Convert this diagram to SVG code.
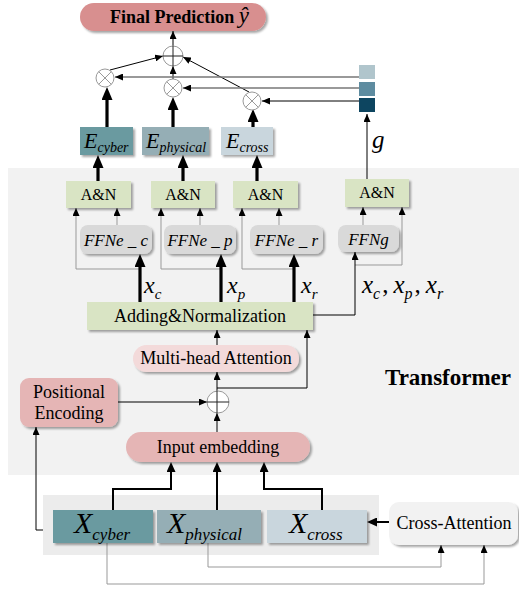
<svg xmlns="http://www.w3.org/2000/svg" width="519" height="591" viewBox="0 0 519 591">
<defs>
<filter id="sh" x="-10%" y="-20%" width="130%" height="150%"><feDropShadow dx="2" dy="2" stdDeviation="1.3" flood-color="#000" flood-opacity="0.35"/></filter>
<marker id="ah" markerWidth="8" markerHeight="7" refX="8" refY="3.5" orient="auto" markerUnits="userSpaceOnUse"><path d="M0,0 L8,3.5 L0,7z" fill="#000"/></marker>
<marker id="am" markerWidth="10" markerHeight="9" refX="0.5" refY="4.5" orient="auto" markerUnits="userSpaceOnUse"><path d="M0,0 L10,4.5 L0,9z" fill="#000"/></marker>
<marker id="tk" markerWidth="13" markerHeight="11" refX="0.5" refY="5.5" orient="auto" markerUnits="userSpaceOnUse"><path d="M0,0 L13,5.5 L0,11z" fill="#000"/></marker>
</defs>
<style>
text{font-family:"Liberation Serif","Times New Roman",serif;fill:#000}
.lbl{font-size:18px;text-anchor:middle}
.an{font-size:16px;text-anchor:middle}
.ffn{font-size:17px;font-style:italic;text-anchor:middle}
.it{font-style:italic}
.thin{fill:none;stroke:#000;stroke-width:1}
.gray{fill:none;stroke:#999;stroke-width:1}
.gl{fill:none;stroke:#777;stroke-width:1.6}
.med{fill:none;stroke:#000;stroke-width:2}
.thick{fill:none;stroke:#000;stroke-width:3.2}
.op{fill:#fff;stroke:#999;stroke-width:1}
.opx{stroke:#999;stroke-width:1}
.opp{stroke:#222;stroke-width:1}
</style>
<rect x="8" y="168" width="511" height="307" fill="#f2f2f2"/>
<rect x="43" y="495" width="336" height="60" fill="#ececec"/>
<g id="connectors">
<line x1="173" y1="46" x2="173" y2="31" class="thin" marker-end="url(#ah)"/>
<line x1="110" y1="70" x2="163" y2="56" class="thin" marker-end="url(#ah)"/>
<line x1="249" y1="92" x2="183" y2="57" class="thin" marker-end="url(#ah)"/>
<line x1="173" y1="79" x2="173" y2="66" class="thin" marker-end="url(#ah)"/>
<line x1="359" y1="77" x2="115" y2="77" class="gl" marker-end="url(#ah)"/>
<line x1="359" y1="88" x2="183" y2="88" class="gl" marker-end="url(#ah)"/>
<line x1="359" y1="101" x2="262" y2="101" class="thin" marker-end="url(#ah)"/>
<line x1="107" y1="127" x2="107" y2="99.5" class="thick" marker-end="url(#tk)"/>
<line x1="173" y1="127" x2="173" y2="109.5" class="thick" marker-end="url(#tk)"/>
<line x1="253" y1="127" x2="253" y2="121.5" class="thick" marker-end="url(#tk)"/>
<line x1="98" y1="181" x2="98" y2="167.5" class="thick" marker-end="url(#tk)"/>
<line x1="183" y1="181" x2="183" y2="167.5" class="thick" marker-end="url(#tk)"/>
<line x1="257" y1="181" x2="257" y2="167.5" class="thick" marker-end="url(#tk)"/>
<line x1="367" y1="179" x2="367" y2="114" class="thin" marker-end="url(#ah)"/>
<line x1="117" y1="225" x2="117" y2="208" class="gray" marker-end="url(#ah)"/>
<line x1="200" y1="225" x2="200" y2="208" class="gray" marker-end="url(#ah)"/>
<line x1="279" y1="225" x2="279" y2="208" class="gray" marker-end="url(#ah)"/>
<line x1="363" y1="225" x2="363" y2="207" class="gray" marker-end="url(#ah)"/>
<polyline points="140,269 76,269 76,208" class="gray" marker-end="url(#ah)"/>
<polyline points="221,269 161,269 161,208" class="gray" marker-end="url(#ah)"/>
<polyline points="294,269 242,269 242,208" class="gray" marker-end="url(#ah)"/>
<polyline points="355,265 402,265 402,207" class="gray" marker-end="url(#ah)"/>
<line x1="140" y1="302" x2="140" y2="266.5" class="thick" marker-end="url(#tk)"/>
<line x1="221" y1="302" x2="221" y2="266.5" class="thick" marker-end="url(#tk)"/>
<line x1="294" y1="302" x2="294" y2="266.5" class="thick" marker-end="url(#tk)"/>
<polyline points="313,315 355,315 355,252" class="thin" marker-end="url(#ah)"/>
<line x1="217" y1="345" x2="217" y2="330" class="thin" marker-end="url(#ah)"/>
<line x1="217" y1="391" x2="217" y2="372" class="thin" marker-end="url(#ah)"/>
<polyline points="217,388 307,388 307,330" class="thin" marker-end="url(#ah)"/>
<line x1="118" y1="402" x2="207" y2="402" class="thin" marker-end="url(#ah)"/>
<line x1="217" y1="432" x2="217" y2="413" class="thin" marker-end="url(#ah)"/>
<polyline points="113,510 113,489 171,489 171,471.5" class="med" marker-end="url(#am)"/>
<line x1="217" y1="510" x2="217" y2="471.5" class="med" marker-end="url(#am)"/>
<polyline points="322,510 322,489 264,489 264,471.5" class="med" marker-end="url(#am)"/>
<polyline points="43,530 36,530 36,427" class="thin" marker-end="url(#ah)"/>
<line x1="389" y1="522" x2="376.5" y2="522" class="med" stroke-width="2.6" marker-end="url(#am)"/>
<polyline points="208,543 208,567 441,567 441,545" class="gray" marker-end="url(#ah)"/>
<polyline points="107,543 107,584 484,584 484,545" class="gray" marker-end="url(#ah)"/>
</g>
<g id="final-prediction">
<rect x="80" y="3" width="186" height="28" rx="14" fill="#d88f8f" filter="url(#sh)"/>
<text x="110" y="23" font-size="18" font-weight="bold">Final Prediction <tspan class="it" font-weight="normal" font-size="23">ŷ</tspan></text>
</g>
<g id="sum-top">
<circle cx="173" cy="56" r="10" class="op"/>
<line x1="163" y1="56" x2="183" y2="56" class="opp"/>
<line x1="173" y1="46" x2="173" y2="66" class="opp"/>
</g>
<g id="mul-cyber">
<circle cx="105" cy="78" r="9" class="op"/>
<path d="M98.6,71.6 L111.4,84.4 M111.4,71.6 L98.6,84.4" class="opx"/>
</g>
<g id="mul-physical">
<circle cx="173" cy="88" r="9" class="op"/>
<path d="M166.6,81.6 L179.4,94.4 M179.4,81.6 L166.6,94.4" class="opx"/>
</g>
<g id="mul-cross">
<circle cx="252" cy="101" r="9" class="op"/>
<path d="M245.6,94.6 L258.4,107.4 M258.4,94.6 L245.6,107.4" class="opx"/>
</g>
<g id="gate">
<rect x="359" y="65" width="16" height="14" fill="#b0c5cc"/>
<rect x="359" y="82" width="16" height="14" fill="#5e8ca0"/>
<rect x="359" y="98" width="16" height="14" fill="#0d4560"/>
<text x="372" y="148" font-size="25" class="it">g</text>
</g>
<g id="e-cyber">
<rect x="80" y="127" width="53" height="28" fill="#6a9aa0" filter="url(#sh)"/>
<text x="84" y="148" font-size="22" class="it">E<tspan font-size="14" dy="4">cyber</tspan></text>
</g>
<g id="e-physical">
<rect x="142" y="127" width="67" height="28" fill="#95aeb5" filter="url(#sh)"/>
<text x="146" y="148" font-size="22" class="it">E<tspan font-size="14" dy="4">physical</tspan></text>
</g>
<g id="e-cross">
<rect x="221" y="127" width="52" height="28" fill="#c9d6dd" filter="url(#sh)"/>
<text x="226" y="148" font-size="22" class="it">E<tspan font-size="14" dy="4">cross</tspan></text>
</g>
<g id="an1"><rect x="66" y="181" width="65" height="27" fill="#d9e4c4" filter="url(#sh)"/><text x="98.5" y="200" class="an">A&amp;N</text></g>
<g id="an2"><rect x="151" y="181" width="64" height="27" fill="#d9e4c4" filter="url(#sh)"/><text x="183" y="200" class="an">A&amp;N</text></g>
<g id="an3"><rect x="233" y="181" width="65" height="27" fill="#d9e4c4" filter="url(#sh)"/><text x="265.5" y="200" class="an">A&amp;N</text></g>
<g id="an4"><rect x="345" y="179" width="64" height="28" fill="#d9e4c4" filter="url(#sh)"/><text x="377" y="198" class="an">A&amp;N</text></g>
<g id="ffne-c"><rect x="80" y="225" width="72" height="29" rx="8" fill="#d9d9d9" filter="url(#sh)"/><text x="116" y="246" class="ffn">FFNe _ c</text></g>
<g id="ffne-p"><rect x="164" y="225" width="72" height="29" rx="8" fill="#d9d9d9" filter="url(#sh)"/><text x="200" y="246" class="ffn">FFNe _ p</text></g>
<g id="ffne-r"><rect x="250" y="225" width="73" height="29" rx="8" fill="#d9d9d9" filter="url(#sh)"/><text x="286.5" y="246" class="ffn">FFNe _ r</text></g>
<g id="ffng"><rect x="338" y="225" width="61" height="27" rx="8" fill="#d9d9d9" filter="url(#sh)"/><text x="368.5" y="245" class="ffn">FFNg</text></g>
<g id="x-labels">
<text x="144" y="293" font-size="24" class="it">x<tspan font-size="15" dy="6">c</tspan></text>
<text x="227" y="293" font-size="24" class="it">x<tspan font-size="15" dy="6">p</tspan></text>
<text x="301" y="293" font-size="24" class="it">x<tspan font-size="15" dy="6">r</tspan></text>
<text x="362" y="293" font-size="25" class="it">x<tspan font-size="16" dy="6">c</tspan><tspan dx="2" dy="-6" font-style="normal">,</tspan><tspan dx="5">x</tspan><tspan font-size="16" dy="6">p</tspan><tspan dx="2" dy="-6" font-style="normal">,</tspan><tspan dx="5">x</tspan><tspan font-size="16" dy="6">r</tspan></text>
</g>
<g id="adding-normalization"><rect x="87" y="302" width="226" height="28" fill="#d9e4c4" filter="url(#sh)"/><text x="200" y="322" class="lbl">Adding&amp;Normalization</text></g>
<g id="multi-head-attention"><rect x="133" y="345" width="166" height="27" rx="13.5" fill="#f3dada" filter="url(#sh)"/><text x="216" y="364" class="lbl">Multi-head Attention</text></g>
<g id="sum-mid">
<circle cx="218" cy="402" r="11" class="op"/>
<line x1="207" y1="402" x2="229" y2="402" class="opp"/>
<line x1="217" y1="391" x2="217" y2="413" class="opp"/>
</g>
<g id="positional-encoding"><rect x="20" y="378" width="98" height="49" rx="9" fill="#e5b5b5" filter="url(#sh)"/><text x="69" y="398" class="lbl">Positional</text><text x="69" y="419" class="lbl">Encoding</text></g>
<g id="input-embedding"><rect x="126" y="432" width="184" height="30" rx="15" fill="#e5b5b5" filter="url(#sh)"/><text x="218" y="453" class="lbl">Input embedding</text></g>
<text x="385" y="385" font-size="23" font-weight="bold">Transformer</text>
<g id="x-cyber"><rect x="53" y="510" width="100" height="33" fill="#6a9aa0" filter="url(#sh)"/><text x="74" y="533" font-size="30" class="it">X<tspan font-size="17" dy="7">cyber</tspan></text></g>
<g id="x-physical"><rect x="157" y="510" width="104" height="33" fill="#95aeb5" filter="url(#sh)"/><text x="167" y="533" font-size="30" class="it">X<tspan font-size="17" dy="7">physical</tspan></text></g>
<g id="x-cross"><rect x="267" y="510" width="100" height="33" fill="#c9d6dd" filter="url(#sh)"/><text x="289" y="533" font-size="30" class="it">X<tspan font-size="17" dy="7">cross</tspan></text></g>
<g id="cross-attention"><rect x="389" y="502" width="129" height="43" rx="10" fill="#f2f2f2" filter="url(#sh)"/><text x="454" y="529" class="lbl">Cross-Attention</text></g>
</svg>
